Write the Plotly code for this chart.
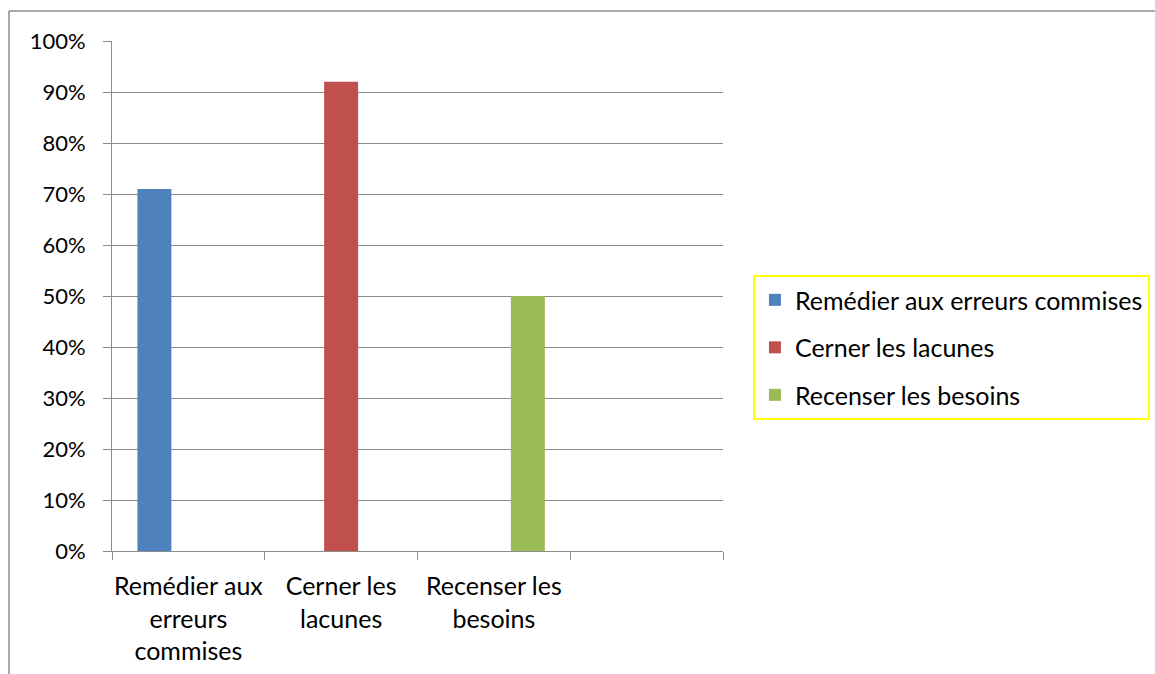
import plotly.graph_objects as go

# Categories (the fourth slot is left empty, as in the source workbook)
categories = ["Remédier aux<br>erreurs<br>commises", "Cerner les<br>lacunes", "Recenser les<br>besoins", " "]
series_names = ["Remédier aux erreurs commises", "Cerner les lacunes", "Recenser les besoins"]
remedier = [0.71, None, None, None]
cerner = [None, 0.92, None, None]
recenser = [None, None, 0.50, None]
colors = ["#4F81BD", "#C0504D", "#9BBB59"]

y_ticks = [i / 10 for i in range(11)]
y_ticktext = [f"{i * 10}%" for i in range(11)]

FONT = "Lato"
GRID = "#8C8C8C"

fig = go.Figure()
for name, vals, col in zip(series_names, [remedier, cerner, recenser], colors):
    fig.add_trace(go.Bar(
        x=categories, y=vals, name=name, marker_color=col,
        marker_line_width=0, legendgroup=name,
    ))

fig.update_layout(
    width=1155, height=674,
    margin=dict(l=112, r=432, t=41, b=123, autoexpand=False),
    paper_bgcolor="white", plot_bgcolor="white",
    barmode="group", bargap=0.333, bargroupgap=0,
    font=dict(family=FONT, size=22, color="#000000"),
    showlegend=True,
    legend=dict(
        x=1.049, y=0.541, xanchor="left", yanchor="top",
        bordercolor="#FFFF00", borderwidth=2, bgcolor="white",
        font=dict(family=FONT, size=25, color="#000000"),
        tracegroupgap=12, traceorder="grouped",
    ),
    xaxis=dict(
        type="category", categoryorder="array", categoryarray=categories,
        range=[-0.5, 3.5], automargin=False, tickangle=0,
        showline=True, linecolor=GRID, linewidth=1,
        ticks="outside", tickson="boundaries", ticklen=8, tickcolor=GRID,
        showgrid=False, tickfont=dict(size=25), ticklabelstandoff=13,
    ),
    yaxis=dict(
        range=[0, 1], tickvals=y_ticks, ticktext=y_ticktext, automargin=False,
        showline=True, linecolor=GRID, linewidth=1,
        ticks="outside", ticklen=8, tickcolor=GRID,
        showgrid=True, gridcolor=GRID, gridwidth=1,
        zeroline=False, tickfont=dict(size=22), ticklabelstandoff=13,
    ),
    shapes=[
        # chart-area border (left and top edges)
        dict(type="line", xref="paper", yref="paper",
             x0=(9 - 112) / 611, x1=(9 - 112) / 611, y0=(551 - 11) / 510, y1=-1,
             line=dict(color="#8C8C8C", width=1.5)),
        dict(type="line", xref="paper", yref="paper",
             x0=(9 - 112) / 611, x1=2, y0=(551 - 11) / 510, y1=(551 - 11) / 510,
             line=dict(color="#8C8C8C", width=1.5)),
    ],
)

fig.write_html("out.html")
